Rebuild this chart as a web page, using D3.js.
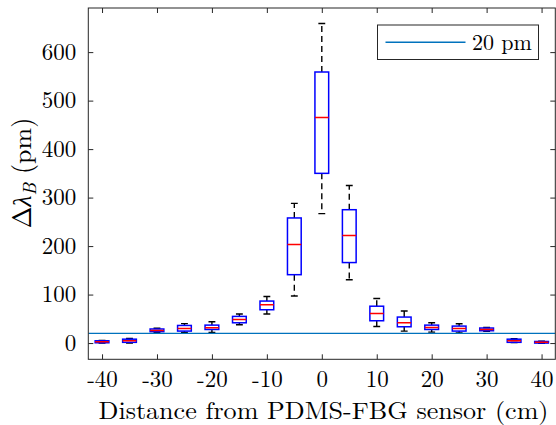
<!DOCTYPE html>
<html>
<head>
<meta charset="utf-8">
<script src="https://cdn.jsdelivr.net/npm/d3@7"></script>
<style>
html,body{margin:0;padding:0;background:#fff;}
svg{display:block;}
</style>
</head>
<body>
<svg id="chart" width="556" height="425"></svg>
<script>
// ---- data ----
const positions   = [-40, -35, -30, -25, -20, -15, -10, -5, 0, 5, 10, 15, 20, 25, 30, 35, 40];
const whiskerLow  = [0, 0, 22, 22, 22, 37.7, 59.8, 97, 267, 130.5, 34, 24.7, 22.6, 21, 24, 1, -0.5];
const quart1      = [0.6, 1.5, 23.5, 24.7, 28, 41.8, 68.7, 141, 350, 166, 46, 33.6, 28, 24.7, 25.4, 1.5, 0];
const medians     = [2.7, 4.7, 26, 30, 31.5, 48.7, 79, 203, 465, 222, 61, 41.8, 32, 30, 28, 4.7, 1.5];
const quart3      = [4.7, 8, 29, 36.3, 37, 55, 86.6, 258, 559, 275, 76, 53.6, 37, 35, 31, 8, 3.3];
const whiskerHigh = [5.5, 9.5, 30.5, 40, 44, 60, 96, 288, 659, 325, 92, 66, 41.8, 39.8, 32, 9, 4];
const xTicks = [-40, -30, -20, -10, 0, 10, 20, 30, 40];
const yTicks = [0, 100, 200, 300, 400, 500, 600];
const thresholdValue = 20;
const legendLabel = "20 pm";
const xLabel = "Distance from PDMS-FBG sensor (cm)";

// ---- layout ----
const svg = d3.select("#chart");
const L = 88.3, R = 555.3, T = 8, B = 359.3;
const x = d3.scaleLinear().domain([-42.5, 42.5]).range([L, R]);
const y = d3.scaleLinear().domain([-33.5, 691]).range([B, T]);
const axisColor = "#262626";
const FONT = '"Latin Modern Roman", "Liberation Serif", serif';
const boxW = 2.5, capW = 1.25;

svg.append("defs").append("clipPath").attr("id", "clip")
  .append("rect").attr("x", L).attr("y", T).attr("width", R - L).attr("height", B - T);

const plot = svg.append("g").attr("clip-path", "url(#clip)");

const data = positions.map((p, i) => ({
  p, lo: whiskerLow[i], q1: quart1[i], med: medians[i], q3: quart3[i], hi: whiskerHigh[i]
}));

const g = plot.selectAll("g.box").data(data).join("g").attr("class", "box");
// whiskers (dashed)
g.append("line").attr("x1", d => x(d.p)).attr("x2", d => x(d.p))
  .attr("y1", d => y(d.q3)).attr("y2", d => y(d.hi))
  .attr("stroke", "#000").attr("stroke-width", 1.4).attr("stroke-dasharray", "6,4");
g.append("line").attr("x1", d => x(d.p)).attr("x2", d => x(d.p))
  .attr("y1", d => y(d.q1)).attr("y2", d => y(d.lo))
  .attr("stroke", "#000").attr("stroke-width", 1.4).attr("stroke-dasharray", "6,4");
// caps
g.append("line").attr("x1", d => x(d.p - capW / 2)).attr("x2", d => x(d.p + capW / 2))
  .attr("y1", d => y(d.hi)).attr("y2", d => y(d.hi))
  .attr("stroke", "#000").attr("stroke-width", 1.4);
g.append("line").attr("x1", d => x(d.p - capW / 2)).attr("x2", d => x(d.p + capW / 2))
  .attr("y1", d => y(d.lo)).attr("y2", d => y(d.lo))
  .attr("stroke", "#000").attr("stroke-width", 1.4);
// boxes
g.append("rect").attr("x", d => x(d.p - boxW / 2)).attr("width", d => x(d.p + boxW / 2) - x(d.p - boxW / 2))
  .attr("y", d => y(d.q3)).attr("height", d => Math.max(0.5, y(d.q1) - y(d.q3)))
  .attr("fill", "none").attr("stroke", "#0000ff").attr("stroke-width", 1.5);
// medians
g.append("line").attr("x1", d => x(d.p - boxW / 2)).attr("x2", d => x(d.p + boxW / 2))
  .attr("y1", d => y(d.med)).attr("y2", d => y(d.med))
  .attr("stroke", "#ff0000").attr("stroke-width", 1.5);

// threshold line
plot.append("line").attr("x1", L).attr("x2", R)
  .attr("y1", y(thresholdValue)).attr("y2", y(thresholdValue))
  .attr("stroke", "#0072BD").attr("stroke-width", 1.4);

// ---- axes ----
const fmt = d => String(d);
const axB = svg.append("g").attr("transform", `translate(0,${B})`)
  .call(d3.axisBottom(x).tickValues(xTicks).tickFormat(fmt).tickSizeInner(-5).tickSizeOuter(0).tickPadding(11));
const axT = svg.append("g").attr("transform", `translate(0,${T})`)
  .call(d3.axisTop(x).tickValues(xTicks).tickFormat("").tickSizeInner(-5).tickSizeOuter(0));
const axL = svg.append("g").attr("transform", `translate(${L},0)`)
  .call(d3.axisLeft(y).tickValues(yTicks).tickFormat(fmt).tickSizeInner(-5).tickSizeOuter(0).tickPadding(12));
const axR = svg.append("g").attr("transform", `translate(${R},0)`)
  .call(d3.axisRight(y).tickValues(yTicks).tickFormat("").tickSizeInner(-5).tickSizeOuter(0));
[axB, axT, axL, axR].forEach(a => {
  a.attr("font-family", null).attr("font-size", null);
  a.select(".domain").remove();
  a.selectAll(".tick line").attr("stroke", axisColor).attr("stroke-width", 1);
  a.selectAll("text").attr("fill", "#000").style("font-family", FONT).style("font-size", "23px");
});
axB.selectAll(".tick text").attr("dy", "0.71em");
// frame
svg.append("rect").attr("x", L).attr("y", T).attr("width", R - L).attr("height", B - T)
  .attr("fill", "none").attr("stroke", axisColor).attr("stroke-width", 1);

// ---- labels ----
const xl = svg.append("text").attr("x", (98 + 549) / 2).attr("y", 419)
  .attr("text-anchor", "middle").attr("fill", "#000")
  .style("font-family", FONT).style("font-size", "24px").text(xLabel);
xl.attr("textLength", 450).attr("lengthAdjust", "spacingAndGlyphs");

const yl = svg.append("text").attr("transform", "translate(31,173) rotate(-90)")
  .attr("text-anchor", "middle").attr("fill", "#000")
  .style("font-family", FONT).style("font-size", "26px");
yl.append("tspan").text("Δ");
yl.append("tspan").style("font-style", "italic").text("λ");
yl.append("tspan").style("font-style", "italic").style("font-size", "18px").attr("dy", 5).text("B");
yl.append("tspan").attr("dy", -5).text(" (pm)");

// ---- legend ----
const lg = svg.append("g");
lg.append("rect").attr("x", 377.5).attr("y", 25).attr("width", 161).attr("height", 34.5)
  .attr("fill", "#fff").attr("stroke", axisColor).attr("stroke-width", 1);
lg.append("line").attr("x1", 385.5).attr("x2", 465.5).attr("y1", 42.3).attr("y2", 42.3)
  .attr("stroke", "#0072BD").attr("stroke-width", 1.4);
lg.append("text").attr("x", 472).attr("y", 49.5).attr("fill", "#000")
  .style("font-family", FONT).style("font-size", "22px").text(legendLabel);
</script>
</body>
</html>
